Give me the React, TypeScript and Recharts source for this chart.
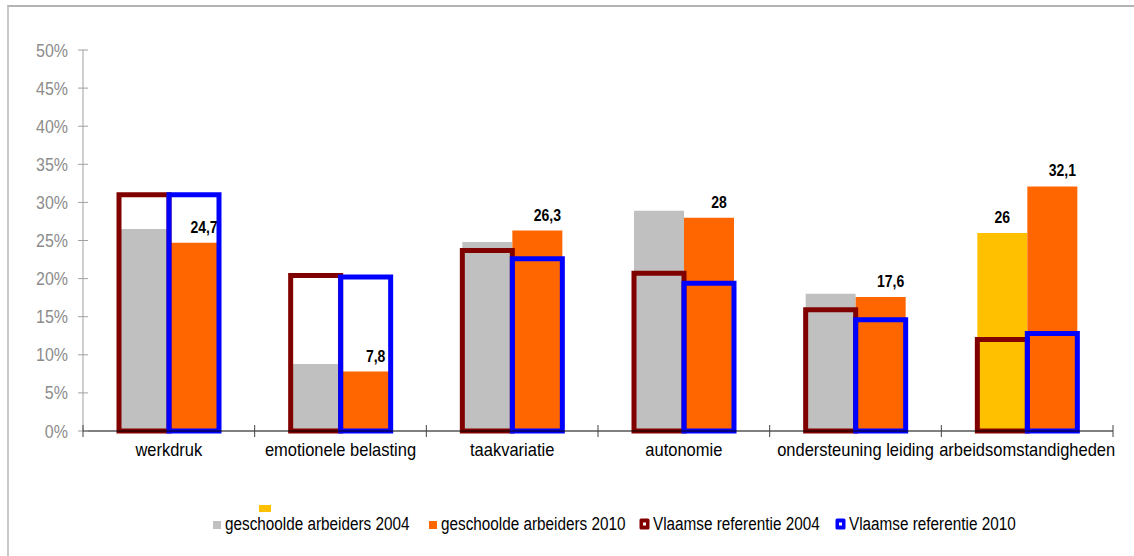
import React from 'react'
import { BarChart, Bar, XAxis, YAxis, Cell, LabelList } from 'recharts'

const categories = ['werkdruk', 'emotionele belasting', 'taakvariatie', 'autonomie', 'ondersteuning leiding', 'arbeidsomstandigheden']
const geschoold2004 = [26.5, 8.8, 24.8, 28.9, 18.0, 26]
const geschoold2010 = [24.7, 7.8, 26.3, 28, 17.6, 32.1]
const vlaams2004 = [31, 20.4, 23.7, 20.7, 15.9, 12.0]
const vlaams2010 = [31, 20.2, 22.6, 19.4, 14.6, 12.8]
const yTicks = [0, 5, 10, 15, 20, 25, 30, 35, 40, 45, 50]
const legendLabels = ['geschoolde arbeiders 2004', 'geschoolde arbeiders 2010', 'Vlaamse referentie 2004', 'Vlaamse referentie 2010']

const GRAY = '#C0C0C0'
const ORANGE = '#FF6600'
const YELLOW = '#FFC000'
const DARKRED = '#800000'
const BLUE = '#0000FF'
const FONT = '"Liberation Sans", Arial, sans-serif'
const STRETCH = 1.15
// left edge of each legend item (marker), in px
const legendLeft = [211, 427, 639, 835]

const data = categories.map((name, i) => ({
  name,
  g2004: geschoold2004[i],
  g2010: geschoold2010[i],
  v2004: vlaams2004[i],
  v2010: vlaams2010[i],
}))

const fmt = (v: number) => String(v).replace('.', ',')

function Tall({ x, y, anchor, size, bold, fill, children }: any) {
  return (
    <g transform={`translate(${x},${y}) scale(1,${STRETCH})`}>
      <text x={0} y={0} textAnchor={anchor} fontSize={size} fontWeight={bold ? 'bold' : 'normal'} fontFamily={FONT} fill={fill}>
        {children}
      </text>
    </g>
  )
}

function YTick({ x, y, payload }: any) {
  return (
    <g>
      <line x1={x - 5} x2={x + 5} y1={y} y2={y} stroke="#a0a0a0" />
      <Tall x={x - 15} y={y + 6.5} anchor="end" size={16} fill="#8c8c8c">{payload.value}%</Tall>
    </g>
  )
}

function XTick({ x, y, payload, index }: any) {
  const half = payload.offset || 85.8
  return (
    <g>
      <line x1={x - half} x2={x - half} y1={y - 6} y2={y + 6} stroke="#444" />
      {index === categories.length - 1 && (
        <line x1={x + half} x2={x + half} y1={y - 6} y2={y + 6} stroke="#444" />
      )}
      <Tall x={x} y={y + 25} anchor="middle" size={16.5} fill="#000">{payload.value}</Tall>
    </g>
  )
}

function Label2010({ x, y, width, value }: any) {
  return <Tall x={x + width / 2 + 10} y={y - 10} anchor="middle" size={14} bold fill="#000">{fmt(value)}</Tall>
}

function Label2004({ x, y, width, value, index }: any) {
  if (index !== categories.length - 1) return null
  return <Tall x={x + width / 2} y={y - 10} anchor="middle" size={14} bold fill="#000">{fmt(value)}</Tall>
}

function LegendMarker({ i }: { i: number }) {
  if (i < 2) return <svg width={11} height={11}><rect x={2} y={2} width={8} height={8} fill={i === 0 ? GRAY : ORANGE} /></svg>
  const c = i === 2 ? DARKRED : BLUE
  return (
    <svg width={11} height={12}>
      <rect x={0.5} y={0.5} width={10} height={11} rx={1.5} fill={c} />
      <rect x={4} y={4.5} width={3} height={3} fill="#fff" />
    </svg>
  )
}

export default function App() {
  return (
    <div style={{ position: 'absolute', left: 0, top: 0, width: 1134, height: 556, background: '#fff' }}>
      <div style={{ position: 'absolute', left: 7, top: 5, right: 0, bottom: 0, borderTop: '2px solid #b4b4b4', borderLeft: '2px solid #c8c8c8' }} />
      <div style={{ position: 'absolute', left: 0, top: 0 }}>
        <BarChart width={1134} height={556} data={data} barGap={0} margin={{ top: 50, right: 21, left: 23, bottom: 95 }}>
          <YAxis
            domain={[0, 50]}
            ticks={yTicks}
            width={60}
            interval={0}
            axisLine={{ stroke: '#a0a0a0' }}
            tickLine={false}
            tickSize={0}
            tickMargin={0}
            tick={<YTick />}
          />
          <XAxis
            xAxisId="fill"
            dataKey="name"
            height={30}
            interval={0}
            axisLine={{ stroke: '#000' }}
            tickLine={false}
            tickSize={0}
            tickMargin={0}
            tick={<XTick />}
          />
          <XAxis xAxisId="outline" dataKey="name" hide />
          <Bar xAxisId="fill" dataKey="g2004" barSize={50} fill={GRAY} isAnimationActive={false}>
            {data.map((d, i) => (
              <Cell key={d.name} fill={i === categories.length - 1 ? YELLOW : GRAY} />
            ))}
            <LabelList dataKey="g2004" content={<Label2004 />} />
          </Bar>
          <Bar xAxisId="fill" dataKey="g2010" barSize={50} fill={ORANGE} isAnimationActive={false}>
            <LabelList dataKey="g2010" content={<Label2010 />} />
          </Bar>
          <Bar xAxisId="outline" dataKey="v2004" barSize={50} fill="none" stroke={DARKRED} strokeWidth={5} isAnimationActive={false} />
          <Bar xAxisId="outline" dataKey="v2010" barSize={50} fill="none" stroke={BLUE} strokeWidth={5} isAnimationActive={false} />
        </BarChart>
      </div>
      <div style={{ position: 'absolute', left: 259, top: 505, width: 12, height: 7, background: YELLOW }} />
      {legendLabels.map((l, i) => (
        <div key={l} style={{ position: 'absolute', left: legendLeft[i], top: 515, display: 'flex', alignItems: 'center', fontFamily: FONT, fontSize: 15.3, color: '#000', whiteSpace: 'nowrap' }}>
          <LegendMarker i={i} />
          <span style={{ marginLeft: 3, display: 'inline-block', transform: `scaleY(${STRETCH})` }}>{l}</span>
        </div>
      ))}
    </div>
  )
}
